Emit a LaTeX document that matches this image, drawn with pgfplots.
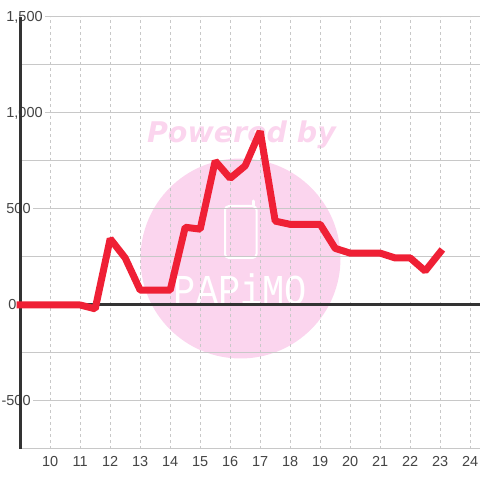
\documentclass[border=0pt]{standalone}
\usepackage{pgfplots}
\pgfplotsset{compat=1.18}
\usepackage{fontspec}
\setmainfont{Liberation Sans}
\newfontfamily\wmfont{DejaVu Sans}
\newfontfamily\wmmono{Liberation Mono}
\definecolor{gridc}{HTML}{C8C8C8}
\definecolor{axisc}{HTML}{333333}
\definecolor{labelc}{HTML}{444444}
\definecolor{redl}{HTML}{EF2035}
\definecolor{wm}{HTML}{FBD5EE}
\begin{document}
\begin{tikzpicture}[x=1pt,y=1pt]
\useasboundingbox (0,0) rectangle (480,480);
% watermark
\fill[wm] (240.5,221.5) circle (100);
\node[wm,font=\fontsize{28.5}{28.5}\wmfont\bfseries\itshape,inner sep=0pt] at (241.5,345) {Powered by};
\draw[white,line width=2pt,rounded corners=4pt] (225,222) rectangle (256.5,274);
\draw[white,line width=3pt,line cap=round] (253.5,274) -- (253.5,279);
\node[white,font=\fontsize{37}{37}\wmmono,inner sep=0pt,yscale=1.15] at (240.5,191) {PAPiMO};
\begin{axis}[
  at={(20.2pt,31pt)},anchor=south west,
  scale only axis,width=459.8pt,height=432pt,
  xmin=9,xmax=24.3267,ymin=-750,ymax=1500,
  clip=false,
  axis line style={draw=none},
  tick style={draw=none},
  xtick={10,...,24},
  ytick={-500,0,500,1000,1500},
  yticklabels={\llap{-}500,\hspace*{2pt}0,500,{1,000},{1,500}},
  minor ytick={-750,-250,250,750,1250},
  ymajorgrids,yminorgrids,xmajorgrids,
  grid style={gridc,line width=1pt},
  x grid style={gridc,line width=0.9pt,dash pattern=on 3pt off 3pt},
  y grid style={gridc,line width=1pt},
  /pgf/number format/assume math mode=true,
  tick label style={font=\fontsize{14.5}{14.5}\selectfont,text=labelc},
  yticklabel style={anchor=west,xshift=-16pt,fill=white,inner xsep=2pt,inner ysep=1pt},
  xticklabel style={yshift=-7pt,inner sep=0pt},
]
\draw[axisc,line width=3pt] (axis cs:9,-750) -- (axis cs:9,1500);
\draw[axisc,line width=3pt] (axis cs:9,0) -- (axis cs:24.3267,0);
\addplot[redl,line width=7pt,line cap=rect,line join=bevel] coordinates {
(9,0)(9.5,0)(10,0)(10.5,0)(11,0)(11.5,-20)(12,345)(12.5,245)(13,77)(13.5,77)(14,77)(14.5,405)(15,395)(15.5,750)(16,660)(16.5,725)(17,905)(17.5,437)(18,420)(18.5,420)(19,420)(19.5,295)(20,270)(20.5,270)(21,270)(21.5,245)(22,245)(22.5,177)(23,275)};
\end{axis}
\end{tikzpicture}
\end{document}
